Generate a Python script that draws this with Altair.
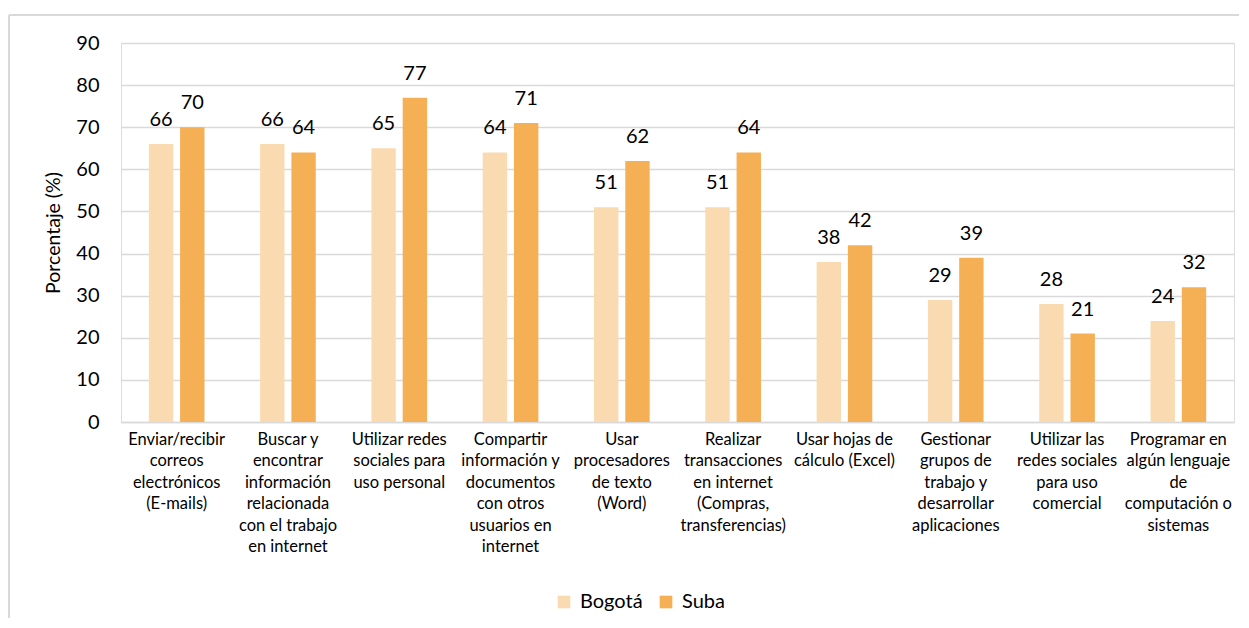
import altair as alt
import pandas as pd

categories = [
    "Enviar/recibir|correos|electrónicos|(E-mails)",
    "Buscar y|encontrar|información|relacionada|con el trabajo|en internet",
    "Utilizar redes|sociales para|uso personal",
    "Compartir|información y|documentos|con otros|usuarios en|internet",
    "Usar|procesadores|de texto|(Word)",
    "Realizar|transacciones|en internet|(Compras,|transferencias)",
    "Usar hojas de|cálculo (Excel)",
    "Gestionar|grupos de|trabajo y|desarrollar|aplicaciones",
    "Utilizar las|redes sociales|para uso|comercial",
    "Programar en|algún lenguaje|de|computación o|sistemas",
]
bogota = [66, 66, 65, 64, 51, 51, 38, 29, 28, 24]
suba = [70, 64, 77, 71, 62, 64, 42, 39, 21, 32]
series = ["Bogotá", "Suba"]
colors = ["#FADBB1", "#F5B055"]
y_ticks = [0, 10, 20, 30, 40, 50, 60, 70, 80, 90]

rows = []
for c, b, s in zip(categories, bogota, suba):
    rows.append({"cat": c, "serie": "Bogotá", "val": b})
    rows.append({"cat": c, "serie": "Suba", "val": s})
df = pd.DataFrame(rows)

FONT = "Lato"
W, H = 1113, 379

x_enc = alt.X("cat:N", sort=categories, title=None,
              scale=alt.Scale(paddingInner=0.5, paddingOuter=0.25),
              axis=alt.Axis(labelAngle=0, labelExpr="split(datum.label, '|')",
                            labelFontSize=16.5, labelLineHeight=21.5, labelPadding=9,
                            labelColor="#000000", labelFont=FONT, ticks=False,
                            domain=True, domainColor="#d9d9d9", domainWidth=1.5,
                            labelLimit=200))
xoff = alt.XOffset("serie:N", sort=series, scale=alt.Scale(paddingInner=0.22))
y_enc = alt.Y("val:Q", title="Porcentaje (%)",
              scale=alt.Scale(domain=[0, 90], nice=False),
              axis=alt.Axis(values=y_ticks, grid=True, gridColor="#d9d9d9", gridWidth=1.5,
                            ticks=False, domain=False, labelFontSize=20, labelPadding=22,
                            labelColor="#000000", labelFont=FONT, titleFont=FONT,
                            titleFontSize=19.5, titleFontWeight="normal", titleColor="#000000",
                            titlePadding=12))
color_enc = alt.Color("serie:N", sort=series,
                      scale=alt.Scale(domain=series, range=colors),
                      legend=alt.Legend(title=None, orient="none", direction="horizontal",
                                        legendX=433, legendY=549, symbolType="square",
                                        symbolSize=160, symbolStrokeWidth=0,
                                        labelFontSize=20, labelFont=FONT, labelColor="#000000",
                                        columnPadding=13, labelOffset=6))

base = alt.Chart(df)
bars = base.mark_bar().encode(x=x_enc, xOffset=xoff, y=y_enc, color=color_enc)
labels = base.mark_text(dy=-24, fontSize=20, font=FONT, color="#000000").encode(
    x=alt.X("cat:N", sort=categories), xOffset=alt.XOffset("serie:N", sort=series),
    y="val:Q", text="val:Q")

border_left = alt.Chart(pd.DataFrame({"a": [0]})).mark_rule(color="#d9d9d9", strokeWidth=2).encode(
    x=alt.value(-112), y=alt.value(-28), y2=alt.value(575))
border_top = alt.Chart(pd.DataFrame({"a": [0]})).mark_rule(color="#d9d9d9", strokeWidth=2).encode(
    x=alt.value(-112), x2=alt.value(1118), y=alt.value(-28))

chart = alt.layer(border_left, border_top, bars, labels).properties(
    width=W, height=H,
    padding={"left": 0, "top": 6, "right": 0, "bottom": 0},
).configure_view(stroke=None).configure(font=FONT)

chart.save("out.html", embed_options={"renderer": "svg", "actions": False})
